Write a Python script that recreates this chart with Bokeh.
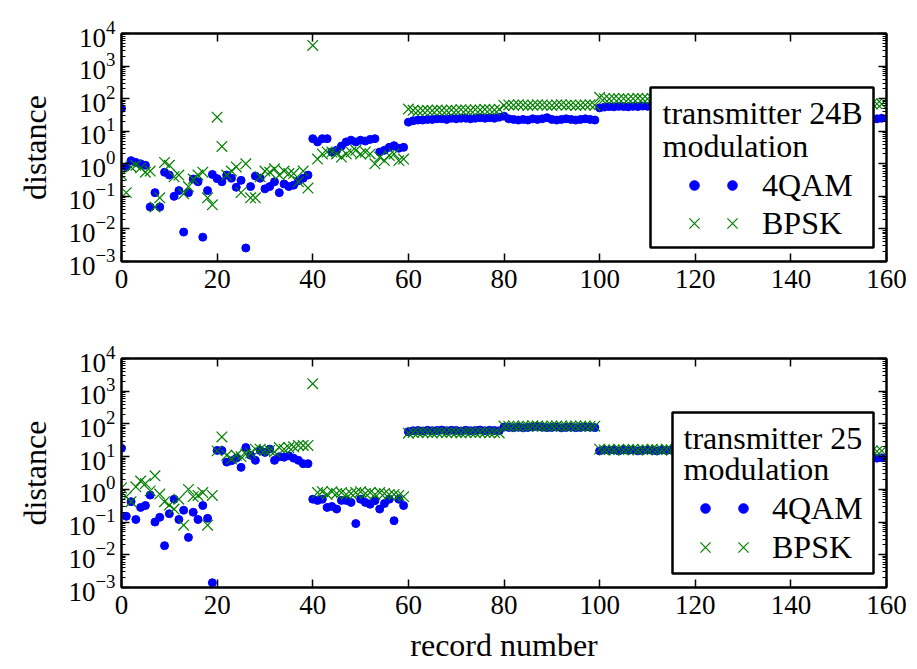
from bokeh.plotting import figure
from bokeh.models import (Range1d, FixedTicker, LinearAxis, LogAxis, BoxAnnotation,
                          Label, Legend, LegendItem, CustomJSTickFormatter)
from bokeh.layouts import column
from bokeh.embed import file_html
from bokeh.resources import INLINE

records = list(range(160))

tx24b_4qam = [
    50, 0.8, 1.25, 1.1, 1.0, 0.9, 0.047, 0.13, 0.047, 0.55,
    0.45, 0.1, 0.15, 0.008, 0.13, 0.34, 0.28, 0.0056, 0.15, 0.47,
    0.35, 0.28, 0.45, 0.36, 0.19, 0.31, 0.0026, 0.2, 0.42, 0.36,
    0.17, 0.2, 0.28, 0.13, 0.24, 0.2, 0.22, 0.3, 0.36, 0.45,
    5.9, 4.7, 5.9, 5.9, 2.3, 2.6, 3.5, 4.7, 5.3, 4.7,
    5.3, 5.0, 5.6, 5.9, 2.3, 2.6, 3.2, 3.6, 3.0, 3.2,
    19, 21, 22, 22, 23, 23, 24, 24, 23, 25, 24, 25, 25, 24, 25, 26, 25, 26, 25, 27,
    29, 24, 23, 22, 23, 22, 24, 23, 24, 26, 23, 22, 23, 24, 23, 22, 23, 24, 23, 22,
    52, 55, 57, 56, 58, 57, 56, 58, 57, 59, 58, 57, 56, 58, 57, 59, 58, 57, 56, 58,
    57, 58, 59, 57, 56, 58, 57, 58, 56, 57, 58, 59, 57, 58, 56, 57, 58, 57, 59, 58,
    24, 25, 23, 24, 25, 24, 23, 24, 25, 24, 23, 25, 24, 23, 24, 25, 24, 23, 24, 25,
]
tx24b_bpsk = [
    0.45, 0.13, 0.8, 0.9, 0.75, 0.55, 0.6, 0.047, 0.09, 1.1,
    0.9, 0.4, 0.45, 0.12, 0.2, 0.34, 0.45, 0.55, 0.09, 0.055,
    27, 3.4, 0.45, 0.6, 0.8, 0.13, 1.0, 0.09, 0.09, 0.4,
    0.6, 0.55, 0.7, 0.45, 0.6, 0.5, 0.5, 0.28, 0.6, 0.18,
    4300, 1.4, 2.0, 2.3, 2.3, 2.0, 1.6, 2.0, 2.3, 2.6,
    2.0, 2.3, 2.0, 1.0, 1.6, 1.25, 1.8, 2.0, 1.25, 1.4,
    48, 44, 42, 43, 44, 43, 45, 44, 43, 45, 44, 46, 45, 44, 46, 45, 47, 46, 45, 47,
    62, 64, 63, 65, 64, 62, 63, 65, 64, 63, 62, 64, 65, 63, 64, 62, 63, 64, 65, 63,
    110, 100, 98, 102, 99, 101, 97, 100, 103, 99, 98, 101, 100, 102, 99, 97, 100, 101, 98, 100,
    102, 99, 101, 100, 98, 97, 100, 102, 99, 101, 100, 98, 99, 101, 100, 102, 98, 99, 100, 101,
    68, 70, 69, 67, 70, 68, 69, 71, 68, 69, 70, 67, 69, 68, 70, 69, 68, 70, 69, 68,
]
tx25_4qam = [
    18, 0.15, 0.42, 0.12, 0.28, 0.32, 0.67, 0.1, 0.14, 0.019,
    0.18, 0.5, 0.12, 0.23, 0.034, 0.2, 0.12, 0.32, 0.13, 0.0014,
    15.5, 15.5, 6.8, 7.5, 9, 4.7, 19, 11, 7.7, 15.5,
    13.5, 17, 7.7, 10, 9.6, 10.6, 9, 7.7, 6.1, 6.1,
    0.5, 0.46, 0.5, 0.28, 0.3, 0.25, 0.46, 0.46, 0.4, 0.09,
    0.5, 0.4, 0.35, 0.45, 0.25, 0.37, 0.5, 0.11, 0.5, 0.32,
    58, 62, 63, 61, 64, 62, 63, 65, 62, 64, 63, 61, 64, 62, 63, 65, 62, 64, 63, 62,
    80, 78, 77, 79, 76, 78, 80, 84, 79, 77, 78, 80, 76, 78, 79, 77, 78, 80, 79, 77,
    15, 16, 15.5, 16, 15, 16.5, 15.5, 16, 15, 15.5, 16, 15.5, 15, 16, 15.5, 16, 15, 15.5, 16, 15.5,
    15, 16, 15.5, 16, 15, 15.5, 16, 15.5, 15, 16, 15.5, 16, 15, 15.5, 16, 15.5, 15, 16, 15.5, 16,
    9, 9.5, 8.8, 9.2, 9, 8.7, 9.3, 9, 8.9, 9.1, 9, 8.8, 9.2, 9, 8.9, 9.1, 9, 8.7, 9, 9.2,
]
tx25_bpsk = [
    1.1, 0.6, 0.42, 1.2, 1.8, 1.5, 0.9, 2.6, 0.72, 0.42,
    0.33, 0.25, 0.5, 0.08, 1.0, 0.6, 0.65, 0.8, 0.08, 0.65,
    15, 40, 11, 8.5, 11, 10, 12, 13, 17, 17,
    15.5, 15.5, 14, 19, 17, 19, 20, 22, 22, 22,
    1700, 0.8, 0.85, 0.7, 0.85, 0.75, 0.8, 0.7, 0.75, 0.8,
    0.85, 0.75, 0.8, 0.7, 0.8, 0.75, 0.7, 0.7, 0.65, 0.6,
    52, 55, 54, 56, 55, 53, 56, 55, 54, 56, 55, 53, 55, 56, 54, 55, 56, 54, 55, 53,
    86, 85, 87, 84, 86, 85, 88, 86, 84, 85, 87, 86, 85, 84, 86, 87, 85, 86, 84, 85,
    17, 16, 16.5, 16, 17, 16, 16.5, 17, 16, 16.5, 16, 17, 16.5, 16, 17, 16, 16.5, 16, 17, 16.5,
    16, 16.5, 17, 16, 16.5, 16, 17, 16.5, 16, 16.5, 17, 16, 16.5, 16, 17, 16.5, 16, 16.5, 16, 17,
    15, 15.5, 14.5, 15, 15.5, 15, 14.5, 15, 15.5, 15, 14.5, 15, 15.5, 15, 14.5, 15, 15.5, 15, 14.5, 15,
]

x_ticks = [0, 20, 40, 60, 80, 100, 120, 140, 160]
y_ticks = [1e-3, 1e-2, 1e-1, 1e0, 1e1, 1e2, 1e3, 1e4]
y_minor = [m * 10.0 ** e for e in range(-3, 4) for m in range(2, 10)]

series_names = ["4QAM", "BPSK"]
titles = ["transmitter 24B", "transmitter 25"]
subtitle = "modulation"

FONT = "Liberation Serif"
TICK_FS = "27px"
LABEL_FS = "32px"


def style_axis(ax, ticker, show_labels):
    ax.ticker = ticker
    ax.axis_line_color = "black"
    ax.axis_line_width = 2
    ax.major_tick_in = 8
    ax.major_tick_out = 0
    ax.minor_tick_in = 4
    ax.minor_tick_out = 0
    ax.major_tick_line_color = "black"
    ax.major_tick_line_width = 1.5
    ax.minor_tick_line_color = "black"
    ax.minor_tick_line_width = 1
    ax.major_label_text_font = FONT
    ax.major_label_text_color = "black"
    ax.major_label_text_font_size = TICK_FS
    if not show_labels:
        ax.formatter = CustomJSTickFormatter(code="return ''")
        ax.major_label_standoff = 0
    ax.axis_label_text_font = FONT
    ax.axis_label_text_font_size = LABEL_FS
    ax.axis_label_text_font_style = "normal"
    ax.axis_label_text_color = "black"


def make_panel(q, b, title, height, bt, bb, show_xlabel, box, tpos, rows_y, dots_x, label_x):
    p = figure(width=913, height=height,
               x_range=Range1d(0, 160), y_range=Range1d(1e-3, 1e4),
               y_axis_type="log", output_backend="svg", toolbar_location=None,
               min_border_left=121, min_border_right=27,
               min_border_top=bt, min_border_bottom=bb)
    p.grid.visible = False
    p.outline_line_color = "black"
    p.outline_line_width = 2
    p.background_fill_color = "white"
    p.border_fill_color = "white"

    xt = FixedTicker(ticks=x_ticks, minor_ticks=[])
    yt = FixedTicker(ticks=y_ticks, minor_ticks=y_minor)

    style_axis(p.xaxis[0], xt, True)
    p.xaxis[0].major_label_standoff = 8
    p.xaxis[0].axis_label_standoff = 10
    if show_xlabel:
        p.xaxis[0].axis_label = "record number"
    style_axis(p.yaxis[0], yt, True)
    p.yaxis[0].major_label_standoff = 6
    p.yaxis[0].axis_label_standoff = 12
    p.yaxis[0].axis_label = "distance"

    top_ax = LinearAxis()
    style_axis(top_ax, xt, False)
    p.add_layout(top_ax, "above")
    right_ax = LogAxis()
    style_axis(right_ax, yt, False)
    p.add_layout(right_ax, "right")

    r1 = p.scatter(records, q, marker="circle", size=8,
                   fill_color="#0000ff", line_color="#0000ff")
    r2 = p.scatter(records, b, marker="x", size=15,
                   line_color="#008000", line_width=1.2)

    left, right, top, bottom = box
    p.add_layout(BoxAnnotation(left=left, right=right, top=top, bottom=bottom,
                               left_units="screen", right_units="screen",
                               top_units="screen", bottom_units="screen",
                               fill_color="white", fill_alpha=1.0,
                               line_color="black", line_alpha=1.0, line_width=2.5))
    tx, ty1, ty2 = tpos
    for txt, yy in ((title, ty1), (subtitle, ty2)):
        p.add_layout(Label(x=tx, y=yy, x_units="screen", y_units="screen", text=txt,
                           text_font=FONT, text_font_size=LABEL_FS,
                           text_baseline="middle", text_color="black"))

    d1, d2 = dots_x
    gh = 40
    # one legend per row and marker column, so that each row shows two markers
    for rend, name, ry, gw in ((r1, series_names[0], rows_y[0], 24),
                               (r2, series_names[1], rows_y[1], 36)):
        for cx, lab in ((d2, name), (d1, " ")):
            leg = Legend(items=[LegendItem(label=lab, renderers=[rend])],
                         location=(cx - gw / 2, ry - gh / 2),
                         orientation="vertical",
                         glyph_width=gw, glyph_height=gh, label_height=gh,
                         spacing=0, padding=0, margin=0,
                         label_standoff=int(label_x - (cx + gw / 2)),
                         border_line_color=None, background_fill_alpha=0,
                         label_text_font=FONT, label_text_font_size=LABEL_FS,
                         label_text_color="black")
            p.add_layout(leg)
    return p


p1 = make_panel(tx24b_4qam, tx24b_bpsk, titles[0], 320, 33, 59, False,
                (529, 752, 174, 14), (541, 149, 116), (76, 38), (573, 611), 641)
p2 = make_panel(tx25_4qam, tx25_bpsk, titles[1], 349, 38, 82, True,
                (551, 752, 175, 14), (562, 150, 119), (79, 40), (584, 622), 651)

layout = column(p1, p2)
open("out.html", "w").write(file_html(layout, INLINE))
